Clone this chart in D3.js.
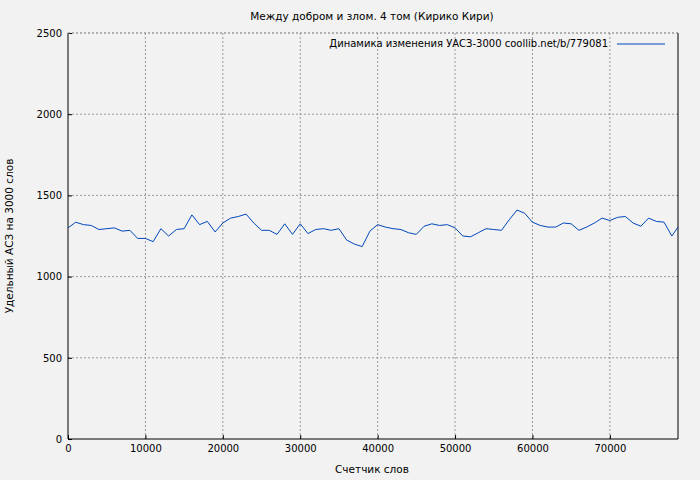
<!DOCTYPE html><html><head><meta charset="utf-8"><script src="https://cdn.jsdelivr.net/npm/d3@7"></script>
<style>body{margin:0;background:#f2f2f2}svg{font-family:"DejaVu Sans",sans-serif}</style></head><body><svg id="c" width="700" height="480"></svg>
<script>
const title="Между добром и злом. 4 том (Кирико Кири)";
const legendLabel="Динамика изменения УАСЗ-3000 coollib.net/b/779081";
const xLabel="Счетчик слов", yLabel="Удельный АСЗ на 3000 слов";
const xs=[0,1000,2000,3000,4000,5000,6000,7000,8000,9000,10000,11000,12000,13000,14000,15000,16000,17000,18000,19000,20000,21000,22000,23000,24000,25000,26000,27000,28000,29000,30000,31000,32000,33000,34000,35000,36000,37000,38000,39000,40000,41000,42000,43000,44000,45000,46000,47000,48000,49000,50000,51000,52000,53000,54000,55000,56000,57000,58000,59000,60000,61000,62000,63000,64000,65000,66000,67000,68000,69000,70000,71000,72000,73000,74000,75000,76000,77000,78000,78800];
const ys=[1300,1335,1320,1315,1290,1295,1300,1280,1285,1235,1235,1215,1295,1250,1290,1295,1380,1320,1340,1275,1330,1360,1370,1385,1330,1285,1285,1260,1325,1260,1325,1265,1290,1295,1285,1295,1225,1200,1185,1280,1320,1305,1295,1290,1270,1260,1310,1325,1315,1320,1300,1250,1245,1270,1295,1290,1285,1350,1410,1390,1335,1315,1305,1305,1330,1325,1285,1305,1330,1360,1345,1365,1370,1330,1310,1360,1340,1335,1250,1305];
const xTicks=[0,10000,20000,30000,40000,50000,60000,70000];
const yTicks=[0,500,1000,1500,2000,2500];
const svg=d3.select("#c");
const L=68,R=678,T=33,B=439;
const x=d3.scaleLinear().domain([0,78800]).range([L,R]);
const y=d3.scaleLinear().domain([0,2500]).range([B,T]);
const g=svg.append("g");
xTicks.slice(1).forEach(t=>g.append("line").attr("x1",x(t)).attr("x2",x(t)).attr("y1",T).attr("y2",B).attr("stroke","#999").attr("stroke-dasharray","2,2"));
yTicks.slice(1).forEach(t=>g.append("line").attr("x1",L).attr("x2",R).attr("y1",y(t)).attr("y2",y(t)).attr("stroke","#999").attr("stroke-dasharray","2,2"));
const st=a=>{a.select(".domain").remove();a.selectAll("text").attr("font-size",10).attr("fill","#000").attr("font-family","DejaVu Sans")};
svg.append("g").attr("transform",`translate(0,${B})`).call(d3.axisBottom(x).tickValues(xTicks).tickFormat(d3.format("d")).tickSize(-4).tickPadding(6)).call(st);
svg.append("g").attr("transform",`translate(${L},0)`).call(d3.axisLeft(y).tickValues(yTicks).tickFormat(d3.format("d")).tickSize(-4).tickPadding(6)).call(st);
svg.append("line").attr("x1",L).attr("x2",L).attr("y1",T).attr("y2",B).attr("stroke","#000");
svg.append("line").attr("x1",R).attr("x2",R).attr("y1",T).attr("y2",B).attr("stroke","#000");
svg.append("line").attr("x1",L).attr("x2",R).attr("y1",B).attr("y2",B).attr("stroke","#000");
svg.append("line").attr("x1",L).attr("x2",R).attr("y1",T).attr("y2",T).attr("stroke","#999").attr("stroke-dasharray","2,2");
svg.append("path").datum(xs.map((v,i)=>[v,ys[i]])).attr("d",d3.line().x(d=>x(d[0])).y(d=>y(d[1]))).attr("fill","none").attr("stroke","#0047bb").attr("stroke-width",1);
svg.append("text").attr("x",372).attr("y",20).attr("text-anchor","middle").attr("font-size",10.5).text(title);
svg.append("text").attr("x",608).attr("y",47).attr("text-anchor","end").attr("font-size",10).text(legendLabel);
svg.append("line").attr("x1",617).attr("x2",665).attr("y1",44).attr("y2",44).attr("stroke","#0047bb");
svg.append("text").attr("x",372).attr("y",473).attr("text-anchor","middle").attr("font-size",10.5).text(xLabel);
svg.append("text").attr("transform","translate(13,236) rotate(-90)").attr("text-anchor","middle").attr("font-size",10.5).text(yLabel);
</script></body></html>
